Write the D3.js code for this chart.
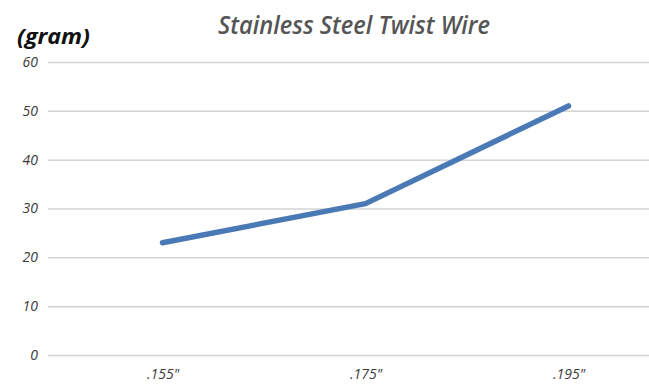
<!DOCTYPE html>
<html><head><meta charset="utf-8">
<script src="https://cdn.jsdelivr.net/npm/d3@7"></script>
<style>body{margin:0;background:#fff}svg{display:block}</style>
</head><body>
<script>
const categories = ['.155"', '.175"', '.195"'];
const values = [23, 31, 51];
const yTicks = [0, 10, 20, 30, 40, 50, 60];

const W = 649, H = 384;
const svg = d3.select("body").append("svg").attr("width", W).attr("height", H);
const font = "'Open Sans', 'Noto Sans', sans-serif";

const x = d3.scalePoint().domain(categories).range([61, 670]).padding(0.5);
const y = d3.scaleLinear().domain([0, 60]).range([355, 62]);

const yAxis = d3.axisLeft(y).tickValues(yTicks).tickSize(-(W - 48)).tickPadding(10);
const gy = svg.append("g").attr("transform", "translate(48,0)").call(yAxis);
gy.select(".domain").remove();
gy.selectAll(".tick line").attr("stroke", "#d4d4d4").attr("stroke-width", 1.5);
gy.selectAll(".tick text").attr("font-family", font).attr("font-style", "italic")
  .attr("font-size", 14).attr("fill", "#3a3a3a").attr("x", -10);

const xAxis = d3.axisBottom(x).tickSize(0).tickPadding(0);
const gx = svg.append("g").attr("transform", "translate(0,369)").call(xAxis);
gx.select(".domain").remove();
gx.selectAll(".tick text").attr("font-family", font).attr("font-style", "italic")
  .attr("font-size", 14).attr("fill", "#3a3a3a");

const line = d3.line().x((d, i) => x(categories[i])).y(d => y(d));
svg.append("path").datum(values).attr("d", line).attr("fill", "none")
  .attr("stroke", "#4a7ab6").attr("stroke-width", 5.5)
  .attr("stroke-linecap", "round").attr("stroke-linejoin", "round");

svg.append("text").attr("x", 354).attr("y", 34).attr("text-anchor", "middle")
  .attr("font-family", font).attr("font-style", "italic").attr("font-weight", 600)
  .attr("font-size", 25).attr("fill", "#555").attr("textLength", 272)
  .attr("lengthAdjust", "spacingAndGlyphs")
  .text("Stainless Steel Twist Wire");

svg.append("text").attr("x", 17).attr("y", 44)
  .attr("font-family", font).attr("font-style", "italic").attr("font-weight", "bold")
  .attr("font-size", 21).attr("fill", "#111").attr("textLength", 73)
  .attr("lengthAdjust", "spacingAndGlyphs")
  .text("(gram)");
</script>
</body></html>
